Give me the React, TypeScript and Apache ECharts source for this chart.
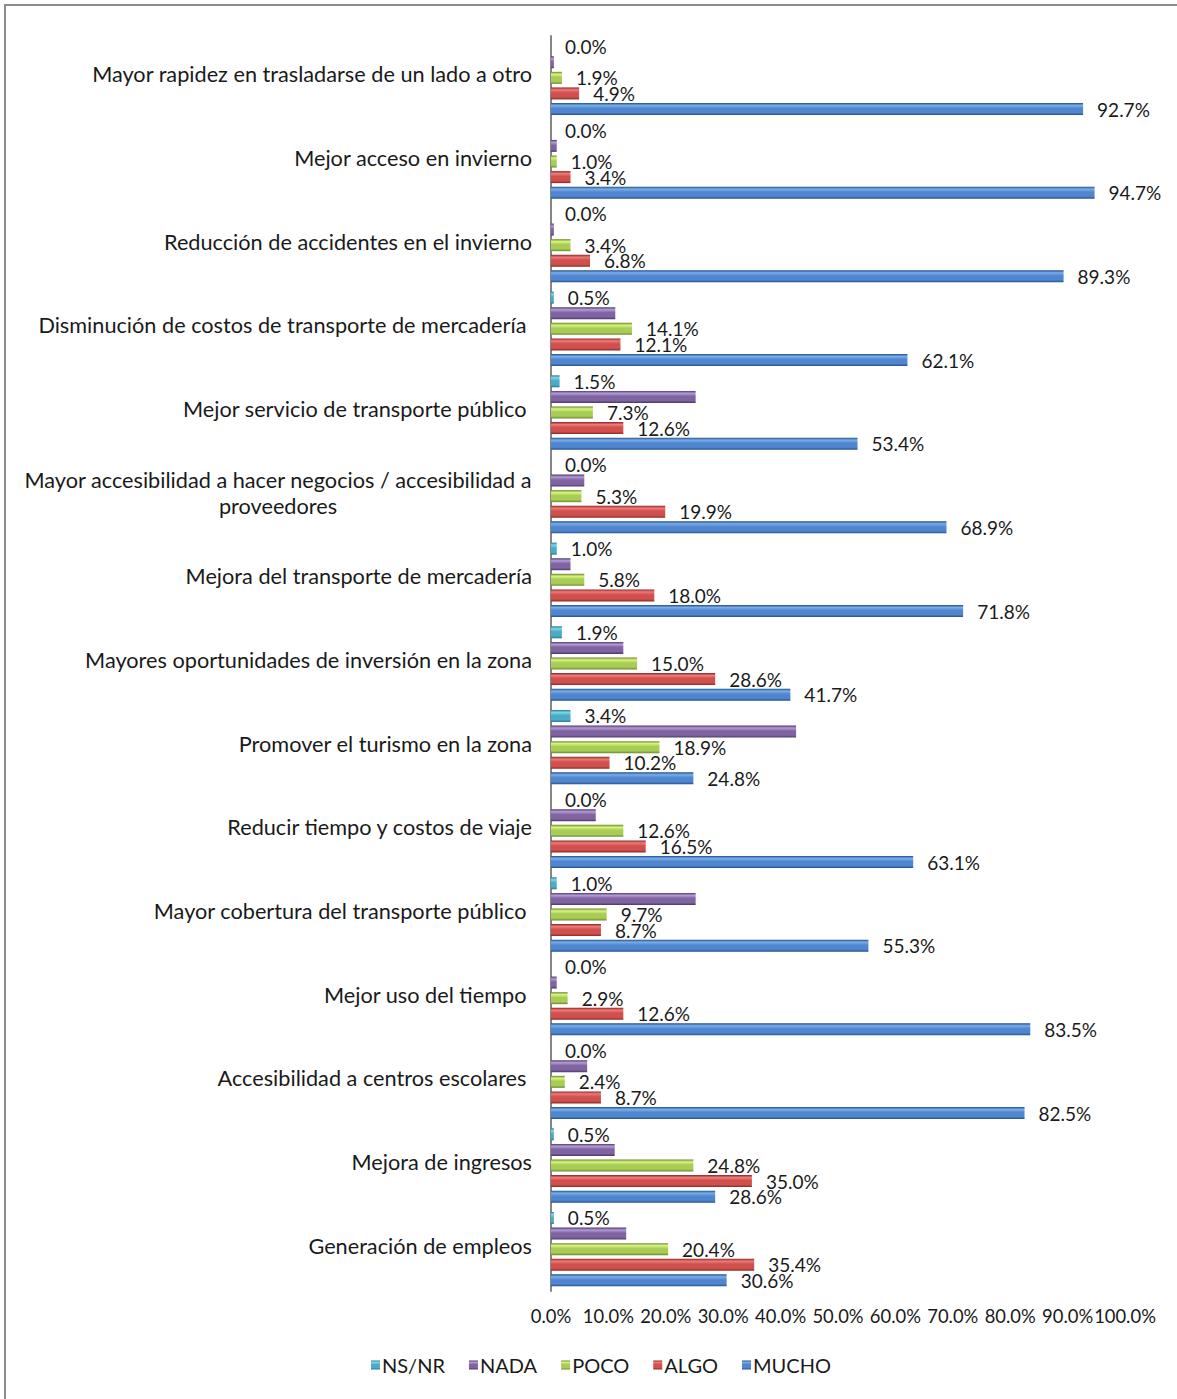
import React, { useEffect, useRef } from "react";
import * as echarts from "echarts";

const categories = [
  "Mayor rapidez en trasladarse de un lado a otro",
  "Mejor acceso en invierno",
  "Reducción de accidentes en el invierno",
  "Disminución de costos de transporte de mercadería\u00a0",
  "Mejor servicio de transporte público\u00a0",
  "Mayor accesibilidad a hacer negocios / accesibilidad a\nproveedores",
  "Mejora del transporte de mercadería",
  "Mayores oportunidades de inversión en la zona",
  "Promover el turismo en la zona",
  "Reducir tiempo y costos de viaje",
  "Mayor cobertura del transporte público\u00a0",
  "Mejor uso del tiempo\u00a0",
  "Accesibilidad a centros escolares\u00a0",
  "Mejora de ingresos",
  "Generación de empleos",
];

const nsnr = [0.0, 0.0, 0.0, 0.5, 1.5, 0.0, 1.0, 1.9, 3.4, 0.0, 1.0, 0.0, 0.0, 0.5, 0.5];
const nada = [0.5, 1.0, 0.5, 11.2, 25.2, 5.8, 3.4, 12.6, 42.7, 7.8, 25.2, 1.0, 6.3, 11.1, 13.1];
const poco = [1.9, 1.0, 3.4, 14.1, 7.3, 5.3, 5.8, 15.0, 18.9, 12.6, 9.7, 2.9, 2.4, 24.8, 20.4];
const algo = [4.9, 3.4, 6.8, 12.1, 12.6, 19.9, 18.0, 28.6, 10.2, 16.5, 8.7, 12.6, 8.7, 35.0, 35.4];
const mucho = [92.7, 94.7, 89.3, 62.1, 53.4, 68.9, 71.8, 41.7, 24.8, 63.1, 55.3, 83.5, 82.5, 28.6, 30.6];

const xTicks = { min: 0, max: 100, interval: 10 };

const FONT = "Lato, 'DejaVu Sans', sans-serif";

function grad(light: string, base: string, dark: string) {
  return new echarts.graphic.LinearGradient(0, 0, 0, 1, [
    { offset: 0, color: dark },
    { offset: 0.2, color: light },
    { offset: 0.45, color: base },
    { offset: 0.8, color: base },
    { offset: 1, color: dark },
  ]);
}

export default function App() {
  const ref = useRef<HTMLDivElement>(null);
  useEffect(() => {
    document.body.style.margin = "0";
    const chart = echarts.init(ref.current!, null, { renderer: "svg" });
    const fmt = (p: any) => Number(p.value).toFixed(1) + "%";
    const mk = (name: string, data: number[], color: any, showLabel: boolean) => ({
      name,
      type: "bar",
      data,
      barWidth: 12,
      barGap: "30%",
      itemStyle: { color },
      label: {
        show: showLabel,
        position: "right",
        distance: 14,
        formatter: fmt,
        fontFamily: FONT,
        fontSize: 19,
        color: "#1a1a1a",
      },
    });
    chart.setOption({
      animation: false,
      textStyle: { fontFamily: FONT },
      graphic: [
        {
          type: "rect",
          shape: { x: 5, y: 5, width: 1200, height: 1420 },
          style: { fill: "none", stroke: "#8c8c8c", lineWidth: 2 },
          silent: true,
        },
      ],
      legend: {
        top: 1350,
        left: 366,
        itemWidth: 9,
        itemHeight: 9,
        itemGap: 24,
        icon: "rect",
        textStyle: { fontFamily: FONT, fontSize: 20, color: "#1a1a1a", padding: [0, 0, 0, -3] },
        data: ["NS/NR", "NADA", "POCO", "ALGO", "MUCHO"],
      },
      grid: { left: 551, right: 52, top: 36, height: 1255, containLabel: false },
      xAxis: {
        type: "value",
        min: xTicks.min,
        max: xTicks.max,
        interval: xTicks.interval,
        axisLine: { show: false },
        axisTick: { show: false },
        splitLine: { show: false },
        axisLabel: {
          formatter: (v: number) => v.toFixed(1) + "%",
          fontFamily: FONT,
          fontSize: 18.4,
          color: "#1a1a1a",
          margin: 16,
          showMinLabel: true,
          showMaxLabel: true,
          hideOverlap: false,
        },
      },
      yAxis: {
        type: "category",
        inverse: true,
        data: categories,
        axisLine: { show: true, lineStyle: { color: "#868686", width: 2 } },
        axisTick: { show: false },
        axisLabel: {
          fontFamily: FONT,
          fontSize: 21.7,
          color: "#1a1a1a",
          margin: 19,
          padding: [0, 0, 7, 0],
          formatter: (v: string) => {
            if (v.indexOf("\n") >= 0) {
              return v
                .split("\n")
                .map((s) => "{c|" + s + "}")
                .join("\n");
            }
            return v;
          },
          rich: {
            c: { align: "center", fontFamily: FONT, fontSize: 21.7, color: "#1a1a1a", lineHeight: 26 },
          },
        },
      },
      series: [
        mk("NS/NR", nsnr, grad("#7fd6ea", "#4bacc6", "#2a7a90"), true),
        mk("NADA", nada, grad("#b49ad8", "#8064a2", "#4c3a6a"), false),
        mk("POCO", poco, grad("#d8f57f", "#a8cc55", "#6a8a2c"), true),
        mk("ALGO", algo, grad("#f07a78", "#d0504d", "#8a2826"), true),
        mk("MUCHO", mucho, grad("#7aaeea", "#4f86cf", "#244f8a"), true),
      ],
    });
    return () => chart.dispose();
  }, []);
  return <div ref={ref} style={{ width: 1177, height: 1399 }} />;
}
